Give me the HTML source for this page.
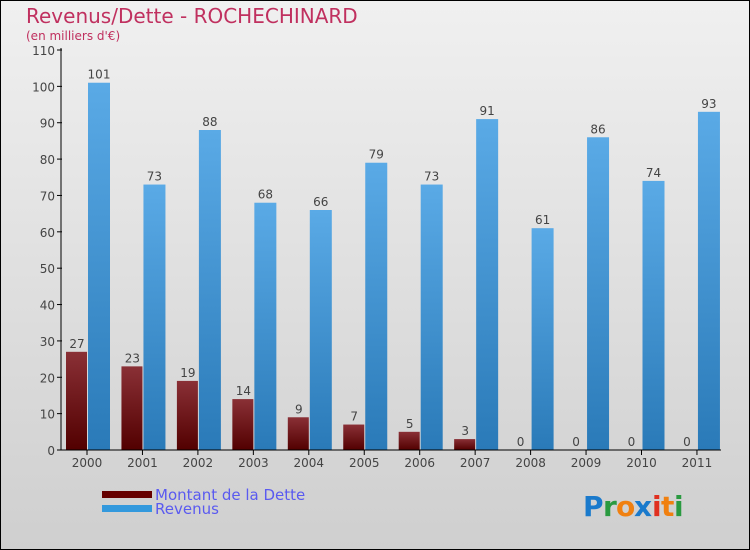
<!DOCTYPE html>
<html><head><meta charset="utf-8"><style>
body{margin:0;}
#wrap{position:relative;width:750px;height:550px;overflow:hidden;}
svg text{font-family:"DejaVu Sans","Liberation Sans",sans-serif;}
</style></head><body>
<div id="wrap">
<svg id="chart" width="750" height="550" xmlns="http://www.w3.org/2000/svg">
<defs>
<linearGradient id="bg" x1="0" y1="0" x2="0" y2="1"><stop offset="0" stop-color="#f0f0f0"/><stop offset="1" stop-color="#cfcfcf"/></linearGradient>
<linearGradient id="gd" x1="0" y1="0" x2="0" y2="1"><stop offset="0" stop-color="#8a3036"/><stop offset="1" stop-color="#520000"/></linearGradient>
<linearGradient id="gr" x1="0" y1="0" x2="0" y2="1"><stop offset="0" stop-color="#5aaae6"/><stop offset="1" stop-color="#2a7ab8"/></linearGradient>
</defs>
<rect x="0.5" y="0.5" width="749" height="549" fill="url(#bg)" stroke="#000"/>
<text x="26" y="23" font-size="20" fill="#c0305f">Revenus/Dette - ROCHECHINARD</text>
<text x="26" y="40" font-size="12" fill="#c0305f">(en milliers d'€)</text>
<g id="marks"></g>
<text x="155" y="500" font-size="15" fill="#5a5af0">Montant de la Dette</text>
<text x="155" y="514" font-size="15" fill="#5a5af0">Revenus</text>
<rect x="102" y="491" width="50" height="7" fill="#660000"/>
<rect x="102" y="505" width="50" height="7" fill="#3399dd"/>
<g font-size="28" font-weight="bold">
<text x="583" y="516" fill="#1a7acc">P</text><text x="603" y="516" fill="#2a9a40">r</text><text x="616" y="516" fill="#f08010">o</text><text x="634" y="516" fill="#1a7acc">x</text><text x="652" y="516" fill="#e03020">i</text><text x="661" y="516" fill="#f08010">t</text><text x="674" y="516" fill="#2a9a40">i</text>
</g>
</svg></div>
<script>
const years=["2000","2001","2002","2003","2004","2005","2006","2007","2008","2009","2010","2011"];
const debt=[27,23,19,14,9,7,5,3,0,0,0,0];
const revenue=[101,73,88,68,66,79,73,91,61,86,74,93];
const yTicks=[0,10,20,30,40,50,60,70,80,90,100,110];
const NS="http://www.w3.org/2000/svg";
const g=document.getElementById('marks');
const y0=450,yTop=50,yMax=110;
function y(v){return y0-(v/yMax)*(y0-yTop);}
function xc(i){return 87+i*55.45;}
function mk(t,a){const e=document.createElementNS(NS,t);for(const k in a)e.setAttribute(k,a[k]);g.appendChild(e);return e;}
yTicks.forEach(v=>{
 const l=mk('line',{x1:57,x2:62,y1:y(v),y2:y(v),stroke:'#000'});
 
 
 const t=mk('text',{x:55,y:y(v)+5,'text-anchor':'end','font-size':12,fill:'#444'});
 t.textContent=v;
 
 
});
years.forEach((yr,i)=>{
 const c=xc(i);
 const b1=mk('rect',{x:c-21,y:y(debt[i]),width:21,height:y0-y(debt[i]),fill:'url(#gd)'});
 
 
 const b2=mk('rect',{x:c+1,y:y(revenue[i]),width:22,height:y0-y(revenue[i]),fill:'url(#gr)'});
 
 
 const t1=mk('text',{x:c-10,y:y(debt[i])-4,'text-anchor':'middle','font-size':12,fill:'#444'});
 t1.textContent=debt[i];
 
 
 const t2=mk('text',{x:c+12,y:y(revenue[i])-4,'text-anchor':'middle','font-size':12,fill:'#444'});
 t2.textContent=revenue[i];
 
 
 const tk=mk('line',{x1:c,x2:c,y1:450,y2:455,stroke:'#000'});
 
 
 const xl=mk('text',{x:c,y:467,'text-anchor':'middle','font-size':12,fill:'#444'});
 xl.textContent=yr;
 
 
});
const ya=mk('line',{x1:61,x2:61,y1:48,y2:450,stroke:'#000'});


const xa=mk('line',{x1:61,x2:721,y1:450,y2:450,stroke:'#000'});


</script>
</body></html>
